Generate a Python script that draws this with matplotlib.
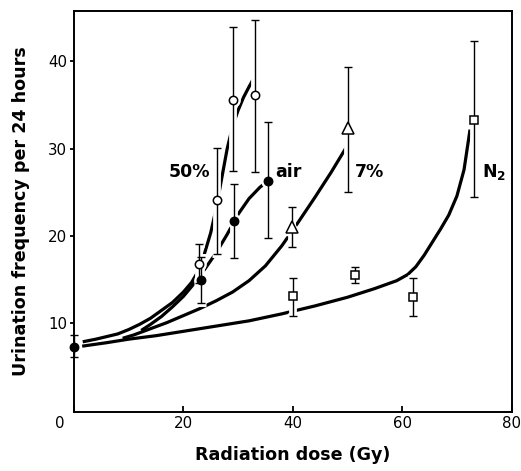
import matplotlib
matplotlib.use("Agg")
import matplotlib.pyplot as plt
from matplotlib.transforms import ScaledTranslation
import numpy as np

plt.rcParams['font.family'] = 'DejaVu Sans'
plt.rcParams['mathtext.fontset'] = 'dejavusans'

# measured points: dose (Gy), mean frequency, error bar bottom / top
air_x = [0.0, 23.2, 29.2, 35.4]
air_y = [7.3, 15.0, 21.7, 26.3]
air_lo = [6.2, 12.3, 17.5, 19.8]
air_hi = [8.7, 17.6, 26.0, 33.1]

o50_x = [22.9, 26.1, 29.0, 33.0]
o50_y = [16.8, 24.1, 35.6, 36.2]
o50_lo = [14.6, 18.0, 27.5, 27.4]
o50_hi = [19.1, 30.1, 44.0, 44.8]

o7_x = [39.9, 50.0]
o7_y = [21.0, 32.4]
o7_lo = [18.7, 25.0]
o7_hi = [23.3, 39.4]

n2_x = [40.0, 51.3, 61.9, 73.2]
n2_y = [13.2, 15.6, 13.0, 33.3]
n2_lo = [10.9, 14.6, 10.8, 24.5]
n2_hi = [15.2, 16.5, 15.2, 42.3]

c50_x = [1.6, 4, 6, 8, 10, 12, 14, 16, 18, 20, 21.5, 23, 24, 25, 26, 27, 28, 29, 30, 31, 32, 32.7]
c50_y = [7.9, 8.2, 8.5, 8.8, 9.3, 9.9, 10.6, 11.5, 12.4, 13.6, 14.7, 16.3, 18.3, 20.4,
         23.2, 26.6, 30.0, 32.6, 34.4, 35.9, 37.1, 37.9]
cair_x = [12.3, 14, 16, 18, 20, 22, 24, 26, 28, 30, 32, 34, 35.4]
cair_y = [9.2, 9.9, 10.8, 11.9, 13.1, 14.6, 16.3, 18.1, 20.2, 22.5, 24.3, 25.6, 26.3]
c7_x = [8.9, 11, 14, 17, 20, 23, 26, 29, 32, 35, 38, 41, 44, 47, 49.9]
c7_y = [8.3, 8.7, 9.4, 10.1, 10.9, 11.7, 12.6, 13.6, 14.9, 16.6, 18.9, 21.6, 24.4, 27.3, 30.3]
cn2_x = [1.5, 6, 10, 15, 20, 26, 32, 38, 44, 50, 55, 59, 61, 62.5, 64, 65.5, 67, 68.5,
         70, 71.3, 72.4]
cn2_y = [7.4, 7.8, 8.2, 8.6, 9.1, 9.7, 10.3, 11.1, 12.0, 13.0, 14.0, 14.9, 15.6, 16.5,
         17.8, 19.3, 20.8, 22.4, 24.6, 27.6, 32.2]

labels = [("50%", 17.3), ("air", 36.8), ("7%", 51.3), (r"$\mathbf{N_2}$", 74.5)]
label_y = 27.3

fig = plt.figure(figsize=(5.21, 4.71), dpi=100)
ax = fig.add_axes([0.142, 0.126, 0.840, 0.851])

for cx, cy in [(c50_x, c50_y), (cair_x, cair_y), (c7_x, c7_y), (cn2_x, cn2_y)]:
    ax.plot(cx, cy, color='k', lw=2.3, solid_capstyle='butt', solid_joinstyle='round', zorder=1)


def draw_series(x, y, lo, hi, marker, face, ms):
    y = np.array(y)
    yerr = [y - np.array(lo), np.array(hi) - y]
    # white copy underneath, so the curves break where bars and symbols cross them
    ax.errorbar(x, y, yerr=yerr, fmt='none', ecolor='white', elinewidth=5.6,
                capsize=3.6, capthick=5.0, zorder=2, clip_on=False)
    ax.plot(x, y, linestyle='none', marker=marker, ms=ms + 3.5, mfc='white', mec='white',
            zorder=2, clip_on=False)
    ax.errorbar(x, y, yerr=yerr, fmt='none', ecolor='k', elinewidth=1.0,
                capsize=2.8, capthick=1.0, zorder=3, clip_on=False)
    ax.plot(x, y, linestyle='none', marker=marker, ms=ms, mfc=face, mec='k',
            mew=1.1, zorder=4, clip_on=False)


draw_series(air_x, air_y, air_lo, air_hi, 'o', 'k', 6.0)
draw_series(o50_x, o50_y, o50_lo, o50_hi, 'o', 'white', 6.0)
draw_series(o7_x, o7_y, o7_lo, o7_hi, '^', 'white', 8.0)
draw_series(n2_x, n2_y, n2_lo, n2_hi, 's', 'white', 5.2)

for text, lx in labels:
    ax.text(lx, label_y, text, fontsize=12.5, fontweight='bold', ha='left', va='center')

ax.set_xlim(0, 80)
ax.set_ylim(-0.1, 45.8)
ax.set_xticks([0, 20, 40, 60, 80])
ax.set_yticks([10, 20, 30, 40])
ax.tick_params(axis='x', direction='in', length=4.5, width=1.3, labelsize=10.8, pad=3)
ax.tick_params(axis='y', direction='out', length=3, width=1.3, labelsize=10.8, pad=2)
for sp in ax.spines.values():
    sp.set_linewidth(1.4)
    sp.set_zorder(3.5)

zero = ax.xaxis.get_major_ticks()[0].label1
zero.set_transform(zero.get_transform() + ScaledTranslation(-0.14, 0, fig.dpi_scale_trans))

ax.set_xlabel("Radiation dose (Gy)", fontsize=12.6, fontweight='bold', labelpad=11)
ax.set_ylabel("Urination frequency per 24 hours", fontsize=12.6, fontweight='bold', labelpad=13)

fig.savefig("out.png", dpi=100)
